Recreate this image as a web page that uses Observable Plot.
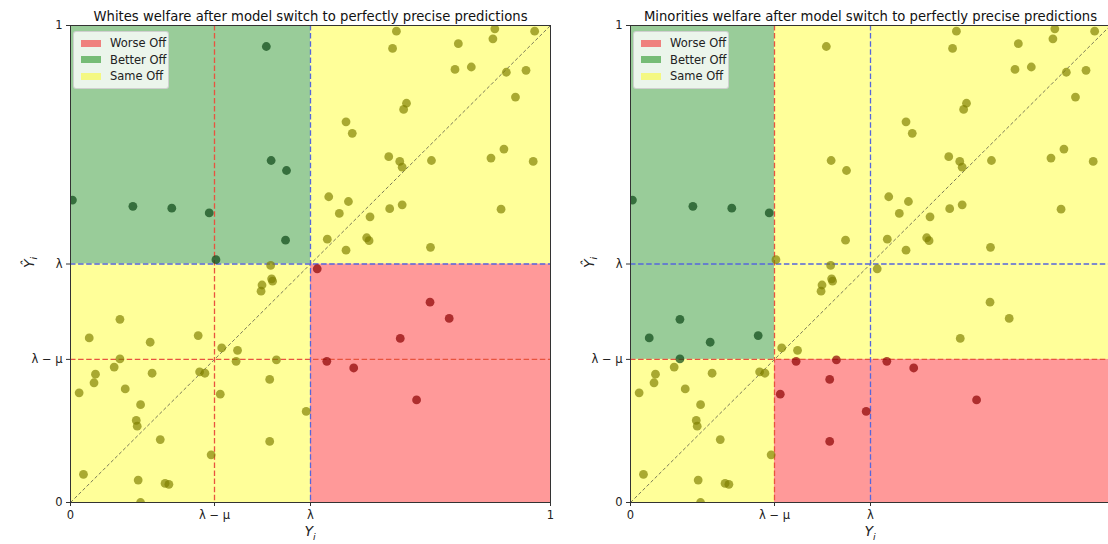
<!DOCTYPE html>
<html>
<head>
<meta charset="utf-8">
<script src="https://cdn.jsdelivr.net/npm/d3@7"></script>
<script src="https://cdn.jsdelivr.net/npm/@observablehq/plot@0.6"></script>
<style>
  html, body { margin: 0; padding: 0; background: #fff; }
  #wrap { position: relative; width: 1108px; height: 544px; overflow: hidden; background: #fff; font-family: "DejaVu Sans", sans-serif; }
  .panel { position: absolute; top: 0; width: 560px; height: 544px; }
  .legend { position: absolute; left: 73px; top: 31px; width: 94px; padding: 3px 0 3px 0;
            background: rgba(255,255,255,0.8); border: 1px solid rgba(204,204,204,0.9); border-radius: 3px;
            font-size: 11.5px; color: #222; }
  .legend .row { display: flex; align-items: center; height: 16.5px; }
  .legend .sw { width: 20px; height: 7px; margin: 0 9px 0 7px; }
  .xlab { position: absolute; top: 523px; width: 40px; text-align: center; font-style: italic; font-size: 14px; color: #222; }
  .ylab { position: absolute; left: 10px; top: 253px; width: 40px; text-align: center; font-style: italic; font-size: 14px; color: #222; transform: rotate(-90deg); }
</style>
</head>
<body>
<div id="wrap"></div>
<script>
// ---- data ----
const lambda = 0.5;
const mu = 0.2;
const tickValues = [0, lambda - mu, lambda, 1];
const tickLabels = ["0", "λ − μ", "λ", "1"];
const titles = [
  "Whites welfare after model switch to perfectly precise predictions",
  "Minorities welfare after model switch to perfectly precise predictions"
];
const categories = ["Worse Off", "Better Off", "Same Off"];
const regionColors = ["rgba(255,0,0,0.4)", "rgba(0,128,0,0.4)", "rgba(255,255,0,0.4)"];
const pointColors = ["rgba(140,0,0,0.7)", "rgba(15,75,25,0.72)", "rgba(128,128,0,0.68)"];
const legendColors = ["rgba(240,90,90,0.75)", "rgba(40,150,40,0.6)", "rgba(250,250,60,0.6)"];

// Y_i (true outcome) and Ŷ_i (prediction)
const Y = [
  0.408, 0.004, 0.130, 0.211, 0.289, 0.418, 0.450, 0.448, 0.303,
  0.679, 0.884, 0.967, 0.671, 0.808, 0.880, 0.801, 0.835, 0.908, 0.949, 0.927,
  0.700, 0.694, 0.574, 0.587, 0.663, 0.686, 0.691, 0.752, 0.876, 0.903, 0.964,
  0.538, 0.579, 0.560, 0.624, 0.665, 0.691, 0.897, 0.535, 0.574, 0.617, 0.622, 0.750,
  0.417, 0.419, 0.421, 0.399, 0.397, 0.514, 0.749, 0.789, 0.687, 0.534, 0.590, 0.721,
  0.103, 0.039, 0.166, 0.266, 0.315, 0.348, 0.103, 0.345, 0.429, 0.091, 0.052, 0.170,
  0.269, 0.280, 0.049, 0.114, 0.018, 0.415, 0.312, 0.146, 0.491, 0.137, 0.139, 0.187,
  0.415, 0.293, 0.027, 0.141, 0.197, 0.205, 0.146
];
const Yhat = [
  0.956, 0.634, 0.621, 0.617, 0.607, 0.717, 0.696, 0.550, 0.509,
  0.988, 0.993, 0.988, 0.952, 0.962, 0.972, 0.908, 0.913, 0.902, 0.906, 0.850,
  0.837, 0.824, 0.798, 0.774, 0.725, 0.715, 0.703, 0.717, 0.722, 0.741, 0.715,
  0.641, 0.631, 0.606, 0.599, 0.616, 0.624, 0.615, 0.552, 0.529, 0.555, 0.549, 0.535,
  0.497, 0.469, 0.464, 0.456, 0.443, 0.490, 0.420, 0.386, 0.344, 0.296, 0.282, 0.215,
  0.384, 0.345, 0.336, 0.350, 0.324, 0.319, 0.301, 0.296, 0.299, 0.284, 0.269, 0.271,
  0.274, 0.271, 0.251, 0.238, 0.230, 0.258, 0.227, 0.205, 0.191, 0.172, 0.160, 0.132,
  0.128, 0.100, 0.059, 0.047, 0.040, 0.038, 0.000
];

const redLine = "#e8533f";
const blueLine = "#5566dd";
const dash = "5.5,2.6";

function classify(x, y, t) {
  if (x < t && y >= t) return 1;      // better
  if (x >= t && y < t) return 0;      // worse
  return 2;                           // same
}

function makePanel(t, title, showLastX) {
  const pts = Y.map((x, i) => ({x, y: Yhat[i], c: classify(x, Yhat[i], t)}));
  const regions = [
    {x1: t, x2: 1, y1: 0, y2: t, c: 0},
    {x1: 0, x2: t, y1: t, y2: 1, c: 1},
    {x1: 0, x2: t, y1: 0, y2: t, c: 2},
    {x1: t, x2: 1, y1: t, y2: 1, c: 2}
  ];
  const diag = [{x1: 0, y1: 0, x2: 1, y2: 1}];
  const xTicks = showLastX ? tickValues : tickValues.slice(0, 3);
  return Plot.plot({
    width: 560, height: 544,
    marginLeft: 70, marginRight: 10, marginTop: 25, marginBottom: 42,
    style: {fontFamily: "DejaVu Sans, sans-serif", fontSize: "11px", color: "#222", background: "transparent"},
    x: {domain: [0, 1], axis: null},
    y: {domain: [0, 1], axis: null},
    marks: [
      Plot.rect(regions, {x1: "x1", x2: "x2", y1: "y1", y2: "y2", fill: d => regionColors[d.c]}),
      Plot.link(diag, {x1: "x1", y1: "y1", x2: "x2", y2: "y2", stroke: "#6b6b50", strokeWidth: 0.9, strokeDasharray: "3.5,2.2"}),
      Plot.ruleX([lambda - mu], {stroke: redLine, strokeWidth: 1.3, strokeDasharray: dash}),
      Plot.ruleY([lambda - mu], {stroke: redLine, strokeWidth: 1.3, strokeDasharray: dash}),
      Plot.ruleX([lambda], {stroke: blueLine, strokeWidth: 1.3, strokeDasharray: dash}),
      Plot.ruleY([lambda], {stroke: blueLine, strokeWidth: 1.3, strokeDasharray: dash}),
      Plot.dot(pts, {x: "x", y: "y", r: 4.4, fill: d => pointColors[d.c], stroke: null, clip: "frame"}),
      Plot.frame({stroke: "#333", strokeWidth: 1}),
      Plot.axisX(xTicks, {tickSize: 4, tickPadding: 4, tickFormat: (d, i) => tickLabels[i], label: null, fontSize: 11.5, stroke: "#333"}),
      Plot.axisY(tickValues, {tickSize: 4, tickPadding: 4, tickFormat: (d, i) => tickLabels[i], label: null, fontSize: 11.5, stroke: "#333"}),
      Plot.text([title], {frameAnchor: "top", lineAnchor: "bottom", dy: -5, fontSize: 13.2, fill: "#111"})
    ]
  });
}

const wrap = document.getElementById("wrap");
const thresholds = [lambda, lambda - mu];
thresholds.forEach((t, k) => {
  const panel = document.createElement("div");
  panel.className = "panel";
  panel.style.left = (k * 560) + "px";
  panel.appendChild(makePanel(t, titles[k], k === 0));
  const leg = document.createElement("div");
  leg.className = "legend";
  categories.forEach((name, j) => {
    const row = document.createElement("div");
    row.className = "row";
    const sw = document.createElement("div");
    sw.className = "sw";
    sw.style.background = legendColors[j];
    const lab = document.createElement("span");
    lab.textContent = name;
    row.appendChild(sw); row.appendChild(lab);
    leg.appendChild(row);
  });
  panel.appendChild(leg);
  const xl = document.createElement("div");
  xl.className = "xlab";
  xl.style.left = (310 - 20) + "px";
  xl.innerHTML = "Y<sub style='font-size:9.5px'>i</sub>";
  panel.appendChild(xl);
  const yl = document.createElement("div");
  yl.className = "ylab";
  yl.innerHTML = "Ŷ<sub style='font-size:9.5px'>i</sub>";
  panel.appendChild(yl);
  wrap.appendChild(panel);
});
</script>
</body>
</html>
